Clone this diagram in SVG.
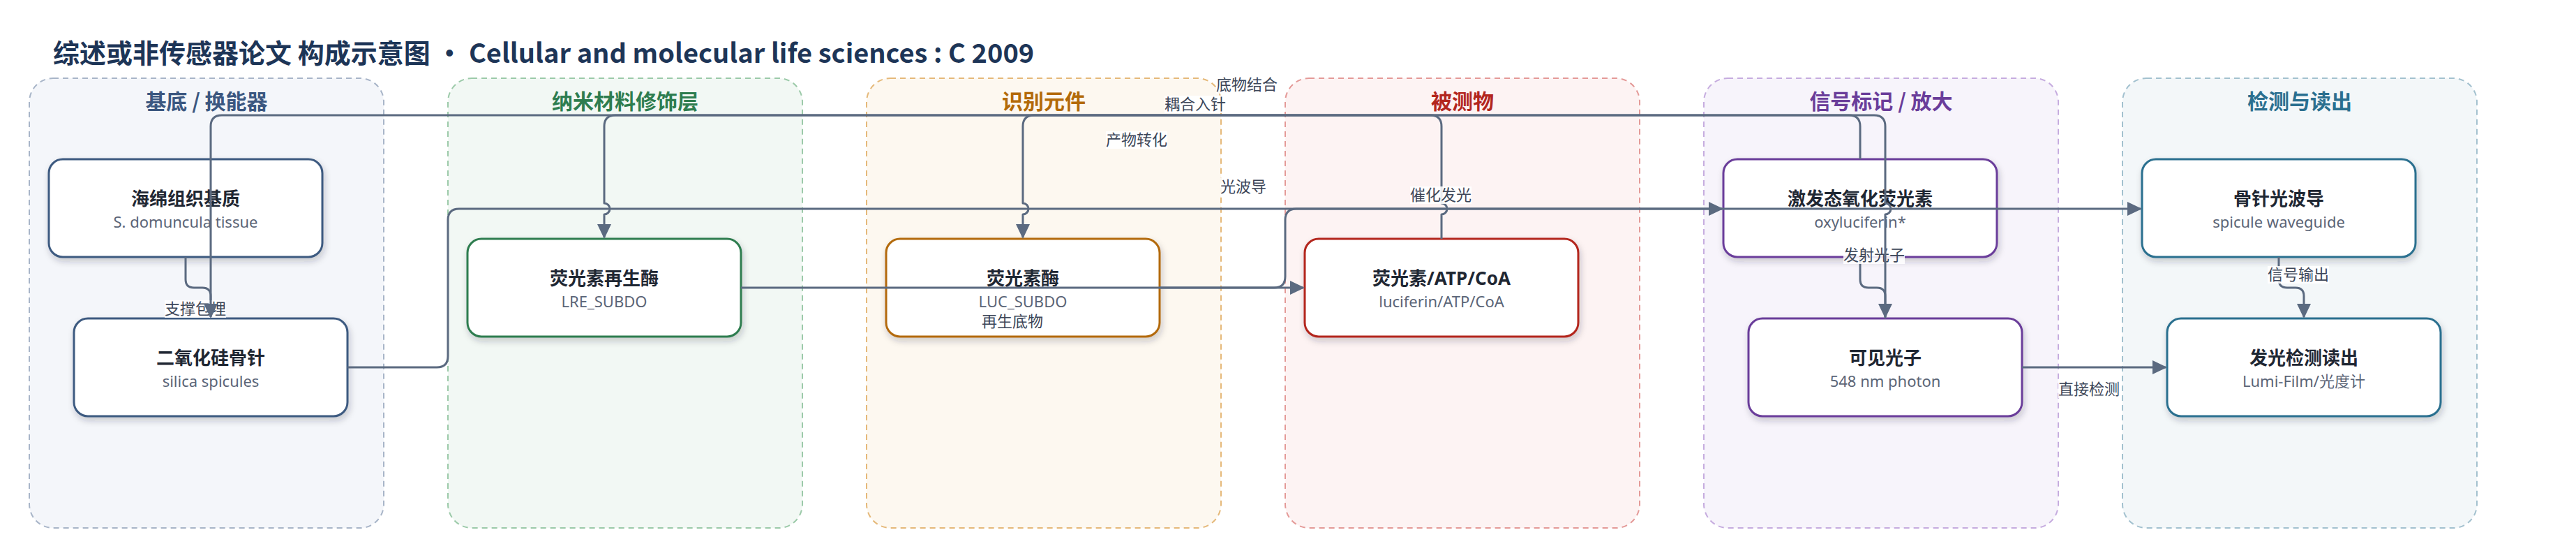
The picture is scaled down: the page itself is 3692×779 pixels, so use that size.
<svg xmlns="http://www.w3.org/2000/svg" width="3692" height="779" viewBox="0 0 3692 779">
<defs>
<filter id="sh" x="-10%" y="-20%" width="120%" height="150%">
<feDropShadow dx="2" dy="5" stdDeviation="5" flood-color="#1e2a3a" flood-opacity="0.22"/>
</filter>
<marker id="ah" markerUnits="userSpaceOnUse" markerWidth="22" markerHeight="20" refX="19" refY="10" orient="auto">
<path d="M0,0 L21,10 L0,20 z" fill="#5b6a80"/>
</marker>
<style>
.title{font-family:"Noto Sans CJK SC","Noto Sans",sans-serif;font-weight:700;font-size:38px;fill:#1d3557}
.ptitle{font-family:"Noto Sans CJK SC","Noto Sans",sans-serif;font-weight:700;font-size:30px;text-anchor:middle}
.panel{stroke-width:2;stroke-dasharray:8 6}
.node{fill:#ffffff;stroke-width:3;filter:url(#sh)}
.nt{font-family:"Noto Sans","Noto Sans CJK SC",sans-serif;font-weight:700;font-size:26px;fill:#1f2733;text-anchor:middle}
.ns{font-family:"Noto Sans","Noto Sans CJK SC",sans-serif;font-size:22px;fill:#5b6577;text-anchor:middle}
.edge{fill:none;stroke:#5b6a80;stroke-width:3;stroke-linejoin:round}
.arr{marker-end:url(#ah)}
.lbg{fill:#ffffff;fill-opacity:0.88}
.lt{font-family:"Noto Sans CJK SC","Noto Sans",sans-serif;font-size:22px;fill:#3c4658;text-anchor:middle}
</style>
</defs>
<rect width="3692" height="779" fill="#ffffff"/>
<text class="title" x="76" y="90">综述或非传感器论文 构成示意图 • Cellular and molecular life sciences : C 2009</text>

<g id="panels">
<g id="panel-substrate">
<rect class="panel" x="42" y="112" width="508" height="644" rx="34" fill="#f4f6fa" stroke="#a8b5c8"/>
<text class="ptitle" x="296" y="156" fill="#3b5780">基底 / 换能器</text>
</g>
<g id="panel-nano">
<rect class="panel" x="642" y="112" width="508" height="644" rx="34" fill="#f2f8f4" stroke="#9ccaa9"/>
<text class="ptitle" x="896" y="156" fill="#2e7d4f">纳米材料修饰层</text>
</g>
<g id="panel-recog">
<rect class="panel" x="1242" y="112" width="508" height="644" rx="34" fill="#fdf8f0" stroke="#e5b97a"/>
<text class="ptitle" x="1496" y="156" fill="#b36a08">识别元件</text>
</g>
<g id="panel-analyte">
<rect class="panel" x="1842" y="112" width="508" height="644" rx="34" fill="#fdf3f3" stroke="#e49a98"/>
<text class="ptitle" x="2096" y="156" fill="#b3261e">被测物</text>
</g>
<g id="panel-signal">
<rect class="panel" x="2442" y="112" width="508" height="644" rx="34" fill="#f7f4fb" stroke="#c6acdf"/>
<text class="ptitle" x="2696" y="156" fill="#6a3d9a">信号标记 / 放大</text>
</g>
<g id="panel-detect">
<rect class="panel" x="3042" y="112" width="508" height="644" rx="34" fill="#f3f7f9" stroke="#a3c1cf"/>
<text class="ptitle" x="3296" y="156" fill="#2a6f8f">检测与读出</text>
</g>
</g>

<g id="nodes">
<g id="n-sponge">
<rect class="node" x="70" y="228" width="392" height="140" rx="20" stroke="#3d5a80"/>
<text class="nt" x="266" y="294">海绵组织基质</text>
<text class="ns" x="266" y="326">S. domuncula tissue</text>
</g>
<g id="n-silica">
<rect class="node" x="106" y="456" width="392" height="140" rx="20" stroke="#3d5a80"/>
<text class="nt" x="302" y="522">二氧化硅骨针</text>
<text class="ns" x="302" y="554">silica spicules</text>
</g>
<g id="n-lre">
<rect class="node" x="670" y="342" width="392" height="140" rx="20" stroke="#2e7d4f"/>
<text class="nt" x="866" y="408">荧光素再生酶</text>
<text class="ns" x="866" y="440">LRE_SUBDO</text>
</g>
<g id="n-luc">
<rect class="node" x="1270" y="342" width="392" height="140" rx="20" stroke="#b36a08"/>
<text class="nt" x="1466" y="408">荧光素酶</text>
<text class="ns" x="1466" y="440">LUC_SUBDO</text>
</g>
<g id="n-luciferin">
<rect class="node" x="1870" y="342" width="392" height="140" rx="20" stroke="#b3261e"/>
<text class="nt" x="2066" y="408">荧光素/ATP/CoA</text>
<text class="ns" x="2066" y="440">luciferin/ATP/CoA</text>
</g>
<g id="n-oxy">
<rect class="node" x="2470" y="228" width="392" height="140" rx="20" stroke="#6a3d9a"/>
<text class="nt" x="2666" y="294">激发态氧化荧光素</text>
<text class="ns" x="2666" y="326">oxyluciferin*</text>
</g>
<g id="n-photon">
<rect class="node" x="2506" y="456" width="392" height="140" rx="20" stroke="#6a3d9a"/>
<text class="nt" x="2702" y="522">可见光子</text>
<text class="ns" x="2702" y="554">548 nm photon</text>
</g>
<g id="n-waveguide">
<rect class="node" x="3070" y="228" width="392" height="140" rx="20" stroke="#2a6f8f"/>
<text class="nt" x="3266" y="294">骨针光波导</text>
<text class="ns" x="3266" y="326">spicule waveguide</text>
</g>
<g id="n-readout">
<rect class="node" x="3106" y="456" width="392" height="140" rx="20" stroke="#2a6f8f"/>
<text class="nt" x="3302" y="522">发光检测读出</text>
<text class="ns" x="3302" y="554">Lumi-Film/光度计</text>
</g>
</g>

<g id="connectors">
<path class="edge arr" d="M266,368 V400 Q266,412 278,412 H290 Q302,412 302,424 V454"/>
<path class="edge arr" d="M2666,228 V181 Q2666,165 2650,165 H882 Q866,165 866,181 V291 A8,8 0 0 1 866,307 V340"/>
<path class="edge arr" d="M2066,342 V307 A8,8 0 0 0 2066,291 V181 Q2066,165 2050,165 H1482 Q1466,165 1466,181 V291 A8,8 0 0 1 1466,307 V340"/>
<path class="edge arr" d="M498,526 H626 Q642,526 642,510 V315 Q642,299 658,299 H3068"/>
<path class="edge arr" d="M1662,412 H1826 Q1842,412 1842,396 V315 Q1842,299 1858,299 H2468"/>
<path class="edge arr" d="M1062,412 H1868"/>
<path class="edge arr" d="M2666,368 V400 Q2666,412 2678,412 H2690 Q2702,412 2702,424 V454"/>
<path class="edge arr" d="M2898,526 H3104"/>
<path class="edge arr" d="M3266,368 V400 Q3266,412 3278,412 H3290 Q3302,412 3302,424 V454"/>
<g id="edge-labels">
<rect class="lbg" x="236" y="430" width="88" height="25"/>
<text class="lt" x="280" y="450">支撑包埋</text>
<rect class="lbg" x="1669" y="137" width="88" height="25"/>
<text class="lt" x="1713" y="157">耦合入针</text>
<rect class="lbg" x="1743" y="109" width="88" height="25"/>
<text class="lt" x="1787" y="129">底物结合</text>
<rect class="lbg" x="1585" y="188" width="88" height="25"/>
<text class="lt" x="1629" y="208">产物转化</text>
<rect class="lbg" x="1749" y="255" width="66" height="25"/>
<text class="lt" x="1782" y="275">光波导</text>
<rect class="lbg" x="2021" y="267" width="88" height="25"/>
<text class="lt" x="2065" y="287">催化发光</text>
<rect class="lbg" x="1407" y="448" width="88" height="25"/>
<text class="lt" x="1451" y="468">再生底物</text>
<rect class="lbg" x="2642" y="353" width="88" height="25"/>
<text class="lt" x="2686" y="373">发射光子</text>
<rect class="lbg" x="2950" y="545" width="88" height="25"/>
<text class="lt" x="2994" y="565">直接检测</text>
<rect class="lbg" x="3250" y="381" width="88" height="25"/>
<text class="lt" x="3294" y="401">信号输出</text>
</g>
<path class="edge arr" d="M2702,456 V307 A8,8 0 0 0 2702,291 V181 Q2702,165 2686,165 H318 Q302,165 302,181 V454"/>
</g>
</svg>
